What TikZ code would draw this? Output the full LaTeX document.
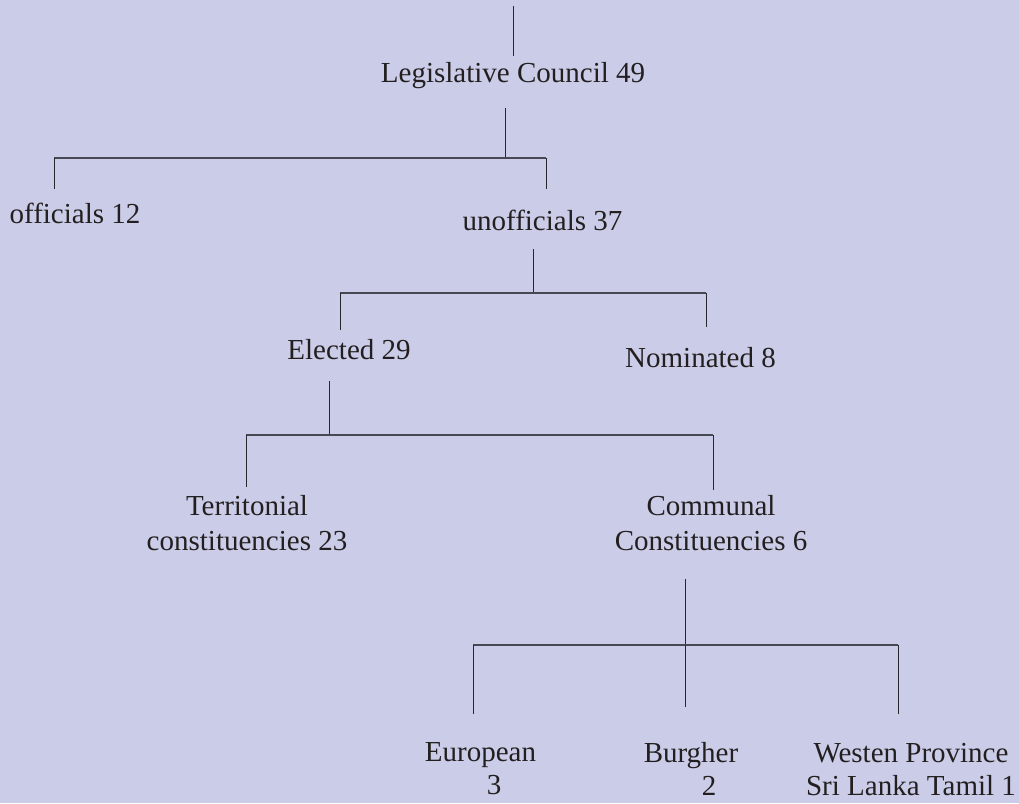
\documentclass[tikz,border=0pt]{standalone}
\usepackage{fontspec}
\setmainfont{Liberation Serif}
\definecolor{bgc}{RGB}{203,205,232}
\definecolor{txt}{RGB}{35,31,32}
\definecolor{vcol}{RGB}{40,40,44}
\definecolor{hcol}{RGB}{72,72,84}
\tikzset{
  lab/.style={inner sep=0pt, outer sep=0pt, text=txt, anchor=base,
    text height=20pt, text depth=6pt, font=\fontsize{29}{35}\selectfont},
  lab2/.style={inner sep=0pt, outer sep=0pt, text=txt, anchor=north,
    align=center, font=\fontsize{29}{35}\selectfont},
  vl/.style={draw=vcol, line width=1pt},
  hl/.style={draw=hcol, line width=1.8pt}
}
\begin{document}
\begin{tikzpicture}[x=1pt,y=-1pt]
\useasboundingbox (0,0) rectangle (1019,803);
\fill[bgc] (0,0) rectangle (1019,803);

% nodes
\node[lab] (lc) at (513,82) {Legislative Council 49};
\node[lab] (off) at (75,223) {officials 12};
\node[lab] (unoff) at (542.5,230) {unofficials 37};
\node[lab] (el) at (349,359) {Elected 29};
\node[lab] (nom) at (700.5,367) {Nominated 8};
\node[lab2] (ter) at (247,495.2) {Territonial\\constituencies 23};
\node[lab2] (com) at (711,495.2) {Communal\\Constituencies 6};
\node[lab2, font=\fontsize{29}{33}\selectfont] (eur) at (480.5,742.8) {European\\\hspace*{27pt}3};
\node[lab2, font=\fontsize{29}{33}\selectfont] (bur) at (691,742.2) {Burgher\\\hspace*{36pt}2};
\node[lab2, font=\fontsize{29}{33}\selectfont] (wes) at (911,742.8) {Westen Province\\Sri Lanka Tamil 1};

% junction coordinates
\coordinate (top) at (513,6);
\coordinate (j1) at (505,158);
\coordinate (b1l) at (54,158);
\coordinate (b1r) at (546,158);
\coordinate (j2) at (533,293);
\coordinate (b2l) at (340,293);
\coordinate (b2r) at (706,293);
\coordinate (j3) at (329,435);
\coordinate (b3l) at (246,435);
\coordinate (b3r) at (713,435);
\coordinate (j4) at (685,645);
\coordinate (b4l) at (473,645);
\coordinate (b4r) at (898,645);

% connectors
\draw[vl, shorten >=6pt] (top) -- (lc.north);
\draw[vl, shorten <=20pt] (lc.south -| j1) -- (j1);
\draw[hl] (b1l) -- (b1r);
\draw[vl, shorten >=14pt] (b1l) -- (off.north -| b1l);
\draw[vl, shorten >=21pt] (b1r) -- (unoff.north -| b1r);

\draw[vl, shorten <=13pt] (unoff.south -| j2) -- (j2);
\draw[hl] (b2l) -- (b2r);
\draw[vl, shorten >=9pt] (b2l) -- (el.north -| b2l);
\draw[vl, shorten >=20pt] (b2r) -- (nom.north -| b2r);

\draw[vl, shorten <=16pt] (el.south -| j3) -- (j3);
\draw[hl] (b3l) -- (b3r);
\draw[vl, shorten >=8pt] (b3l) -- (ter.north -| b3l);
\draw[vl, shorten >=5pt] (b3r) -- (com.north -| b3r);

\draw[vl, shorten <=28pt] (com.south -| j4) -- (j4);
\draw[hl] (b4l) -- (b4r);
\draw[vl, shorten >=29pt] (b4l) -- (eur.north -| b4l);
\draw[vl, shorten >=35pt] (j4) -- (bur.north -| j4);
\draw[vl, shorten >=29pt] (b4r) -- (wes.north -| b4r);
\end{tikzpicture}
\end{document}
